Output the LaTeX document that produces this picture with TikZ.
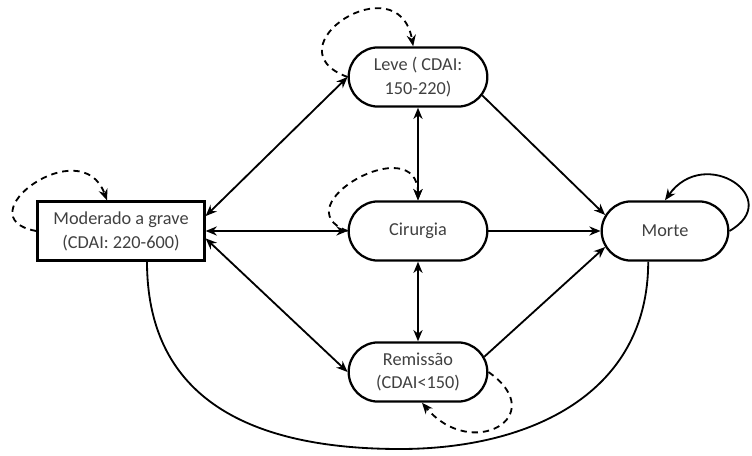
\documentclass[tikz,border=0pt]{standalone}
\usepackage{fontspec}
\setmainfont{Carlito}
\usetikzlibrary{shapes.misc,arrows.meta}
\tikzset{
  state/.style={draw, rounded rectangle, line width=1.6pt, minimum width=3.7cm, minimum height=1.48cm, align=center, text=black!75, font=\fontsize{13}{17}\selectfont},
  startbox/.style={draw, rectangle, line width=1.6pt, minimum width=4.175cm, minimum height=1.475cm, align=center, text=black!75, font=\fontsize{13}{17}\selectfont},
  selfarc/.style={->, dash pattern=on 4.5pt off 3.5pt}
}
\begin{document}
\begin{tikzpicture}[>={Stealth[length=8pt,width=6.5pt]}, line width=1.3pt]
\useasboundingbox (0,0) rectangle (18.8,11.375);
\node[startbox] (mg) at (3.025,5.6) {Moderado a grave\\(CDAI: 220-600)};
\node[state] (lv) at (10.45,9.45) {Leve ( CDAI:\\150-220)};
\node[state] (cr) at (10.45,5.6) {Cirurgia};
\node[state] (rm) at (10.45,2.075) {Remissão\\(CDAI<150)};
\node[state, minimum width=3.4cm] (mt) at (16.625,5.6) {Morte};
\coordinate (low) at (10,0.15);
\draw[<->] (mg.10) -- (lv.west);
\draw[<->] (mg.east) -- (cr.west);
\draw[<->] (mg.-5) -- (rm.west);
\draw[<->] (lv.south) -- (cr.north);
\draw[<->] (cr.south) -- (rm.north);
\draw[->] (lv.-16) -- (mt.165);
\draw[->] (cr.east) -- (mt.west);
\draw[->] (rm.13) -- (mt.195);
\draw[->] (mt.east) .. controls +(1.4,0.8) and +(1.0,1.4) .. (mt.north);
\draw ([xshift=0.65cm]mg.south) .. controls +(0,-3.25) and +(-4,0) .. (low) .. controls +(3.25,0) and +(0,-3.3) .. ([xshift=-0.42cm]mt.south);
\draw[selfarc] (mg.west) to[out=170, in=110, looseness=2.5] ([xshift=-0.35cm]mg.north);
\draw[selfarc] (lv.west) to[out=160, in=100, looseness=3] ([xshift=-0.12cm]lv.north);
\draw[selfarc] (cr.west) to[out=160, in=90, looseness=2.4] (cr.north);
\draw[selfarc] (rm.east) to[out=-35, in=-50, looseness=2.7] ([xshift=0.1cm]rm.south);
\end{tikzpicture}
\end{document}
